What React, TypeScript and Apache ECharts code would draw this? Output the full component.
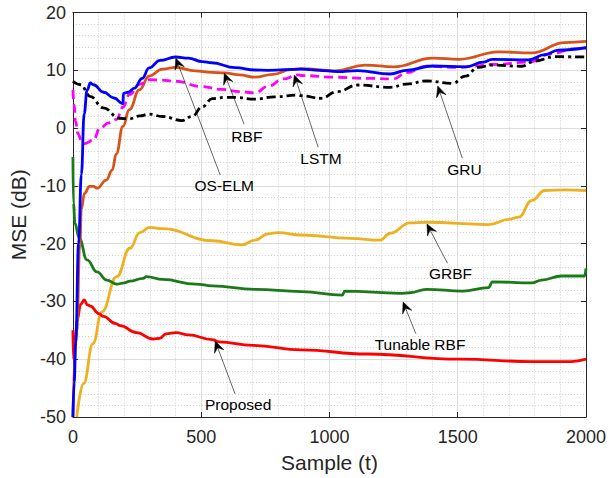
import React, { useEffect, useRef } from "react";
import * as echarts from "echarts";

type Pt = [number, number];

const xMin = 0;
const xMax = 2000;
const xInterval = 500;
const yMin = -50;
const yMax = 20;
const yInterval = 10;

const osElm: Pt[] = [
  [0, -50], [5, -44], [11, -37], [22, -20], [33, -8], [44, 2.5], [55, 6.5], [68, 7.8], [80, 7.5],
  [120, 6.2], [160, 5.2], [195, 4.2], [197, 6.0], [215, 6.2], [240, 6.9], [270, 8.6], [297, 10.4],
  [340, 11.7], [400, 12.3], [450, 12.1], [505, 11.5], [541, 11.3], [633, 10.45], [710, 10.05],
  [760, 10.0], [890, 10.2], [960, 10.0], [1032, 9.76], [1109, 9.95], [1237, 9.36], [1300, 10.0],
  [1403, 10.74], [1532, 10.6], [1600, 11.4], [1634, 11.9], [1776, 11.8], [1840, 12.7], [1892, 13.5],
  [2000, 13.9],
];

const rbf: Pt[] = [
  [0, -50], [15, -35], [27, -20], [33, -14], [45, -11.3], [65, -10.1], [80, -10.1], [95, -10.4],
  [130, -9], [153, -7.3], [169, -4.5], [195, 0.3], [220, 3.2], [259, 6.6], [297, 9], [349, 10.2],
  [400, 10.5], [477, 9.9], [541, 9.65], [590, 9.55], [650, 9.2], [710, 8.8], [780, 9.3], [850, 10.1],
  [890, 10.3], [1019, 9.9], [1140, 10.9], [1250, 10.6], [1403, 12.1], [1506, 11.9], [1660, 13.2],
  [1788, 13.0], [1918, 14.8], [2000, 15.0],
];

const lstm: Pt[] = [
  [0, 6.6], [5, 4], [10, 1.2], [20, -1], [35, -2.5], [45, -2.7], [80, -2.1], [105, 0], [140, 0.9],
  [170, 1.5], [195, 3.6], [220, 5.8], [260, 7.6], [300, 8.4], [340, 8.3], [400, 8.1], [500, 7.2],
  [580, 6.7], [650, 6.3], [710, 6.1], [760, 7.2], [820, 8.5], [877, 9.2], [890, 9.1], [1019, 8.8],
  [1150, 8.6], [1250, 8.5], [1300, 9.6], [1378, 10.7], [1506, 10.5], [1560, 10.7], [1634, 11.0],
  [1776, 11.4], [1866, 12.9], [1950, 13.7], [2000, 13.9],
];

const gru: Pt[] = [
  [0, 8.1], [30, 7.5], [67, 5.5], [118, 3.5], [182, 1.7], [220, 1.6], [260, 2.1], [297, 2.4],
  [349, 2.0], [426, 1.3], [464, 2.0], [505, 3.7], [543, 5.1], [590, 5.3], [634, 5.3], [710, 5.0],
  [787, 5.4], [877, 5.7], [890, 5.6], [967, 5.15], [1030, 6.3], [1109, 7.45], [1237, 7.05],
  [1300, 7.6], [1378, 8.15], [1480, 7.75], [1530, 9.0], [1580, 10.5], [1634, 10.9], [1750, 10.7],
  [1800, 11.6], [1878, 12.35], [2000, 12.3],
];

const grbf: Pt[] = [
  [15, -50], [42, -44.2], [78, -37.3], [113, -31.8], [171, -25.7], [222, -20.8], [261, -18.1],
  [299, -17.2], [350, -17.4], [543, -19.5], [659, -20.2], [710, -19.4], [760, -18.3], [800, -18.1],
  [890, -18.5], [1083, -19.1], [1198, -19.4], [1237, -18.2], [1314, -16.4], [1378, -16.3],
  [1622, -16.7], [1699, -15.8], [1738, -15.4], [1789, -12.5], [1840, -10.8], [1918, -10.7],
  [2000, -10.8],
];

const tunableRbf: Pt[] = [
  [0, -5], [2, -13], [8, -16.5], [24, -19], [55, -22.8], [94, -24.9], [132, -26.3], [171, -27.0],
  [200, -26.8], [222, -26.5], [274, -26.0], [286, -25.7], [350, -26.2], [479, -27.0], [543, -27.3],
  [710, -27.9], [890, -28.3], [1050, -28.9], [1060, -28.2], [1275, -28.6], [1314, -28.5],
  [1378, -27.9], [1519, -28.2], [1620, -27.6], [1635, -26.6], [1789, -26.8], [1827, -26.3],
  [1905, -25.6], [1995, -25.6], [2000, -24.3],
];

const proposed: Pt[] = [
  [0, -35], [2, -40], [8, -37], [17, -33.2], [30, -30.5], [44, -29.75], [57, -30.6], [68, -30.8],
  [101, -32.1], [119, -32.6], [166, -33.8], [184, -34.2], [248, -35.4], [312, -36.5], [338, -36.4],
  [363, -35.6], [402, -35.4], [450, -35.8], [543, -36.6], [569, -37.0], [700, -37.6], [890, -38.4],
  [1147, -39.1], [1507, -40.0], [1789, -40.4], [1943, -40.4], [2000, -40.0],
];

// annotation: label, label centre, arrow tail, arrow tip (data coordinates)
const annotations: { label: string; at: Pt; tail: Pt; tip: Pt }[] = [
  { label: "OS-ELM", at: [590, -10.0], tail: [574, -8.1], tip: [401, 12.1] },
  { label: "RBF", at: [678, -1.4], tail: [667, 0.7], tip: [590, 9.5] },
  { label: "LSTM", at: [967, -5.2], tail: [956, -3.3], tip: [863, 9.2] },
  { label: "GRU", at: [1526, -7.1], tail: [1518, -5.2], tip: [1422, 7.3] },
  { label: "GRBF", at: [1472, -25.1], tail: [1460, -23.4], tip: [1380, -16.6] },
  { label: "Tunable RBF", at: [1353, -37.5], tail: [1337, -35.6], tip: [1287, -30.1] },
  { label: "Proposed", at: [644, -47.9], tail: [632, -46.0], tip: [555, -36.9] },
];

const FONT = '"Liberation Sans", Arial, Helvetica, sans-serif';
const AX = "#262626";

export default function App() {
  const ref = useRef<HTMLDivElement>(null);

  useEffect(() => {
    if (!ref.current) return;
    const chart = echarts.init(ref.current, null, { renderer: "svg" });

    const mkLine = (name: string, data: Pt[], color: string, type: any = "solid", z = 2) => ({
      name,
      type: "line",
      data,
      showSymbol: false,
      symbol: "none",
      smooth: 0.45,
      smoothMonotone: "x",
      z,
      lineStyle: { color, width: 2.8, type, cap: "butt", join: "round" },
      emphasis: { disabled: true },
    });

    const axisCommon = {
      type: "value",
      axisLine: { show: true, onZero: false, lineStyle: { color: AX, width: 1 } },
      axisTick: { show: true, inside: true, length: 5, lineStyle: { color: AX, width: 1 } },
    };

    const plain = (v: number) => String(v);

    chart.setOption({
      animation: false,
      backgroundColor: "#ffffff",
      grid: { left: 69, right: 21, top: 12.5, bottom: 61, containLabel: false },
      xAxis: [
        {
          ...axisCommon,
          position: "bottom",
          min: xMin,
          max: xMax,
          interval: xInterval,
          axisLabel: { show: true, fontSize: 18, color: AX, fontFamily: FONT, margin: 11, formatter: plain },
          splitLine: { show: true, lineStyle: { color: "#dcdcdc", width: 1 } },
          minorTick: { show: false, splitNumber: 5 },
          minorSplitLine: { show: true, lineStyle: { color: "#cfcfcf", width: 1, type: [1, 2] } },
          name: "Sample (t)",
          nameLocation: "middle",
          nameGap: 35,
          nameTextStyle: { fontSize: 21, color: AX, fontFamily: FONT },
        },
        {
          ...axisCommon,
          position: "top",
          min: xMin,
          max: xMax,
          interval: xInterval,
          axisLabel: { show: false },
          splitLine: { show: false },
        },
      ],
      yAxis: [
        {
          ...axisCommon,
          position: "left",
          min: yMin,
          max: yMax,
          interval: yInterval,
          axisLabel: { show: true, fontSize: 18, color: AX, fontFamily: FONT, margin: 7, formatter: plain },
          splitLine: { show: true, lineStyle: { color: "#dcdcdc", width: 1 } },
          minorTick: { show: false, splitNumber: 5 },
          minorSplitLine: { show: true, lineStyle: { color: "#cfcfcf", width: 1, type: [1, 2] } },
          name: "MSE (dB)",
          nameLocation: "middle",
          nameGap: 39,
          nameTextStyle: { fontSize: 21, color: AX, fontFamily: FONT },
        },
        {
          ...axisCommon,
          position: "right",
          min: yMin,
          max: yMax,
          interval: yInterval,
          axisLabel: { show: false },
          splitLine: { show: false },
        },
      ],
      series: [
        mkLine("GRBF", grbf, "#EDB120", "solid", 2),
        mkLine("Tunable RBF", tunableRbf, "#1a7a1a", "solid", 3),
        mkLine("Proposed", proposed, "#ff0000", "solid", 4),
        mkLine("RBF", rbf, "#D95319", "solid", 5),
        mkLine("LSTM", lstm, "#ff00ff", [9, 5], 6),
        mkLine("GRU", gru, "#000000", [9, 4, 3, 4], 7),
        mkLine("OS-ELM", osElm, "#0000ff", "solid", 8),
      ],
    });

    const graphics: any[] = [];
    annotations.forEach((a) => {
      const tip = chart.convertToPixel({ gridIndex: 0 }, a.tip) as number[];
      const tail = chart.convertToPixel({ gridIndex: 0 }, a.tail) as number[];
      const at = chart.convertToPixel({ gridIndex: 0 }, a.at) as number[];
      const dx = tip[0] - tail[0];
      const dy = tip[1] - tail[1];
      const len = Math.sqrt(dx * dx + dy * dy) || 1;
      const ux = dx / len;
      const uy = dy / len;
      const nx = -uy;
      const ny = ux;
      const L = 11;
      const W = 5;
      const bx = tip[0] - ux * L;
      const by = tip[1] - uy * L;
      const mx = tip[0] - ux * L * 0.62;
      const my = tip[1] - uy * L * 0.62;
      graphics.push({
        type: "line",
        z: 100,
        shape: { x1: tail[0], y1: tail[1], x2: mx, y2: my },
        style: { stroke: "#000", lineWidth: 0.6 },
        silent: true,
      });
      graphics.push({
        type: "polygon",
        z: 100,
        shape: {
          points: [
            [tip[0], tip[1]],
            [bx + nx * W, by + ny * W],
            [mx, my],
            [bx - nx * W, by - ny * W],
          ],
        },
        style: { fill: "#000", stroke: "#000", lineWidth: 0.5 },
        silent: true,
      });
      graphics.push({
        type: "text",
        z: 100,
        x: at[0],
        y: at[1],
        style: {
          text: a.label,
          font: `15.5px ${FONT}`,
          fill: "#000",
          align: "center",
          verticalAlign: "middle",
          textAlign: "center",
          textVerticalAlign: "middle",
        },
        silent: true,
      });
    });
    chart.setOption({ graphic: graphics });

    return () => {
      chart.dispose();
    };
  }, []);

  return (
    <div
      ref={ref}
      style={{ position: "absolute", left: 0, top: 0, width: 609, height: 478, background: "#fff" }}
    />
  );
}
